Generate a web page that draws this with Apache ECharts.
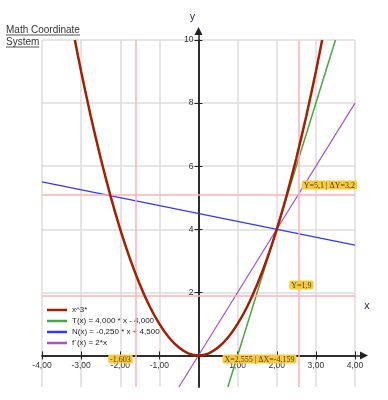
<!DOCTYPE html>
<html>
<head>
<meta charset="utf-8">
<script src="https://cdn.jsdelivr.net/npm/echarts@6/dist/echarts.min.js"></script>
<style>html,body{margin:0;padding:0;background:#fff}#c{width:388px;height:400px}</style>
</head>
<body>
<div id="c"></div>
<script>
// ---- data ----
var titleLines = ['Math Coordinate', 'System'];
var seriesNames = ['x^3*', 'T(x) = 4,000 * x - 4,000', 'N(x) = -0,250 * x + 4,500', 'f\u00b4(x) = 2*x'];
var curveX = [-3.16,-3,-2.75,-2.5,-2.25,-2,-1.75,-1.5,-1.25,-1,-0.75,-0.5,-0.25,0,0.25,0.5,0.75,1,1.25,1.5,1.75,2,2.25,2.5,2.75,3,3.16];
var curveY = [10,9,7.56,6.25,5.06,4,3.06,2.25,1.56,1,0.56,0.25,0.06,0,0.06,0.25,0.56,1,1.56,2.25,3.06,4,5.06,6.25,7.56,9,10];
var tangentX = [0.75, 3.5];
var tangentY = [-1, 10];
var normalX = [-4, 4];
var normalY = [5.5, 3.5];
var derivX = [-0.5, 4];
var derivY = [-1, 8];
var guideX = [-1.603, 2.555];
var guideY = [5.1, 1.9];
var annX = [-1.603, 2.555, 2.555, 4];
var annY = [0, 0, 1.9, 5.1];
var annText = ['-1,603', 'X=2,555 | \u0394X=-4,159', 'Y=1,9', 'Y=5,1 | \u0394Y=3,2'];
var xTicks = [-4,-3,-2,-1,0,1,2,3,4];
var xLabelValues = [-4,-3,-2,-1,1,2,3,4];
var xTickLabels = ['-4,00','-3,00','-2,00','-1,00','1,00','2,00','3,00','4,00'];
var yTicks = [0,2,4,6,8,10];
var yLabelValues = [2,4,6,8,10];
var yTickLabels = ['2','4','6','8','10'];

// ---- layout ----
var X_MIN = -4, X_MAX = 4, Y_MIN = -1, Y_MAX = 10;
var G1 = {left: 42, right: 33, top: 40, bottom: 13};
var G2 = {left: 42, right: 24, top: 31, bottom: 13};
var W = 388, H = 400;
var w1 = W - G1.left - G1.right, w2 = W - G2.left - G2.right;
var h1 = H - G1.top - G1.bottom, h2 = H - G2.top - G2.bottom;
var x2Max = X_MIN + (X_MAX - X_MIN) * w2 / w1;
var y2Max = Y_MIN + (Y_MAX - Y_MIN) * h2 / h1;
// distance of the zero lines from the grid edges (axes cross at the origin)
var xAxisShift = -(0 - Y_MIN) * h1 / (Y_MAX - Y_MIN);
var yAxisShift = -(0 - X_MIN) * w1 / (X_MAX - X_MIN);

function pairs(xs, ys) { return xs.map(function (x, i) { return [x, ys[i]]; }); }

var colors = ['#a61e00', '#45a845', '#3535ff', '#a455c6'];
var labelFont = {fontFamily: 'Liberation Sans', fontSize: 8.5, color: '#333'};

var measure = document.createElement('canvas').getContext('2d');
measure.font = '10px "Liberation Sans"';
var graphics = [];
titleLines.forEach(function (t, i) {
  var tw = measure.measureText(t).width;
  graphics.push({type: 'text', left: 6, top: 25 + i * 12, style: {text: t, font: '10px "Liberation Sans"', fill: '#333'}});
  graphics.push({type: 'rect', left: 6, top: 34.5 + i * 12, shape: {width: tw, height: 1}, style: {fill: '#555'}});
});

var annLabelCfg = [
  {align: 'right', verticalAlign: 'top', offset: [-3, -1]},
  {align: 'right', verticalAlign: 'top', offset: [-2, -1]},
  {align: 'center', verticalAlign: 'bottom', offset: [3, -6]},
  {align: 'right', verticalAlign: 'bottom', offset: [2, -5]}
];

var chart = echarts.init(document.getElementById('c'), null, {renderer: 'canvas'});
chart.setOption({
  animation: false,
  backgroundColor: '#fff',
  graphic: graphics,
  grid: [
    {left: G1.left, right: G1.right, top: G1.top, bottom: G1.bottom},
    {left: G2.left, right: G2.right, top: G2.top, bottom: G2.bottom}
  ],
  legend: {
    left: 42, top: 300, orient: 'vertical', itemWidth: 20, itemHeight: 2.5, itemGap: 1,
    icon: 'rect',
    data: seriesNames, textStyle: {fontFamily: 'Liberation Sans', fontSize: 8, color: '#222', lineHeight: 10}
  },
  xAxis: [
    {
      gridIndex: 0, type: 'value', min: X_MIN, max: X_MAX, interval: 1, position: 'bottom', offset: xAxisShift,
      axisLine: {onZero: false, lineStyle: {color: '#222', width: 1.5}},
      axisTick: {length: 4, lineStyle: {color: '#222'}, customValues: xTicks},
      axisLabel: Object.assign({margin: 6, customValues: xLabelValues, formatter: function (v) {
        var i = xLabelValues.indexOf(v); return i >= 0 ? xTickLabels[i] : ''; }}, labelFont),
      splitLine: {show: true, lineStyle: {color: '#dcdcdc', width: 1.5}}
    },
    {
      gridIndex: 1, type: 'value', min: X_MIN, max: x2Max, position: 'bottom', offset: xAxisShift,
      name: 'x', nameLocation: 'end', nameGap: 3,
      nameTextStyle: {fontFamily: 'DejaVu Sans', fontSize: 10, color: '#2a3550', align: 'center', verticalAlign: 'bottom', padding: [0,0,44,0]},
      axisLine: {onZero: false, symbol: ['none', 'triangle'], symbolSize: [8, 8], lineStyle: {color: '#222', width: 1.5}},
      axisTick: {inside: true, length: 4, lineStyle: {color: '#222'}, customValues: xTicks},
      axisLabel: {show: false}, splitLine: {show: false}
    }
  ],
  yAxis: [
    {
      gridIndex: 0, type: 'value', min: Y_MIN, max: Y_MAX, position: 'left', offset: yAxisShift,
      axisLine: {onZero: false, lineStyle: {color: '#222', width: 1.5}},
      axisTick: {length: 4, lineStyle: {color: '#222'}, customValues: yTicks},
      axisLabel: Object.assign({margin: 5, customValues: yLabelValues, formatter: function (v) {
        var i = yLabelValues.indexOf(v); return i >= 0 ? yTickLabels[i] : ''; }}, labelFont),
      splitLine: {show: true, lineStyle: {color: '#dcdcdc', width: 1.5}}
    },
    {
      gridIndex: 1, type: 'value', min: Y_MIN, max: y2Max, position: 'left', offset: yAxisShift,
      name: 'y', nameLocation: 'end', nameGap: 9,
      nameTextStyle: {fontFamily: 'DejaVu Sans', fontSize: 10, color: '#2a3550', padding: [0, 12, 0, 0]},
      axisLine: {onZero: false, symbol: ['none', 'triangle'], symbolSize: [8, 8], lineStyle: {color: '#222', width: 1.5}},
      axisTick: {inside: true, length: 4, lineStyle: {color: '#222'}, customValues: yLabelValues},
      axisLabel: {show: false}, splitLine: {show: false}
    }
  ],
  series: [
    {
      name: 'guides', type: 'line', xAxisIndex: 0, yAxisIndex: 0, data: [], z: 1,
      markLine: {
        silent: true, symbol: ['none', 'none'], label: {show: false},
        lineStyle: {color: '#ffb0b0', width: 1.5, type: 'solid'},
        data: guideX.map(function (v) { return {xAxis: v}; }).concat(guideY.map(function (v) { return {yAxis: v}; }))
      }
    },
    {name: seriesNames[0], type: 'line', data: pairs(curveX, curveY), smooth: 0.2, symbol: 'none', z: 5,
      itemStyle: {color: colors[0]}, lineStyle: {color: colors[0], width: 2.5}},
    {name: seriesNames[1], type: 'line', data: pairs(tangentX, tangentY), symbol: 'none', z: 4,
      itemStyle: {color: colors[1]}, lineStyle: {color: colors[1], width: 1.5}},
    {name: seriesNames[2], type: 'line', data: pairs(normalX, normalY), symbol: 'none', z: 4,
      itemStyle: {color: colors[2]}, lineStyle: {color: colors[2], width: 1.2}},
    {name: seriesNames[3], type: 'line', data: pairs(derivX, derivY), symbol: 'none', z: 4,
      itemStyle: {color: colors[3]}, lineStyle: {color: colors[3], width: 1.2}},
    {
      name: 'annotations', type: 'line', data: [], z: 10,
      markPoint: {
        silent: true, symbol: 'rect', symbolSize: 0,
        data: annX.map(function (x, i) {
          var c = annLabelCfg[i];
          return {coord: [x, annY[i]], value: annText[i], label: {
            show: true, position: 'inside', formatter: annText[i], align: c.align, verticalAlign: c.verticalAlign, offset: c.offset,
            backgroundColor: '#f8c93a', borderRadius: 2, padding: [1, 2, 0, 2],
            fontFamily: 'Liberation Serif', fontSize: 8, color: '#4a4030'
          }};
        })
      }
    }
  ]
});
</script>
</body>
</html>
